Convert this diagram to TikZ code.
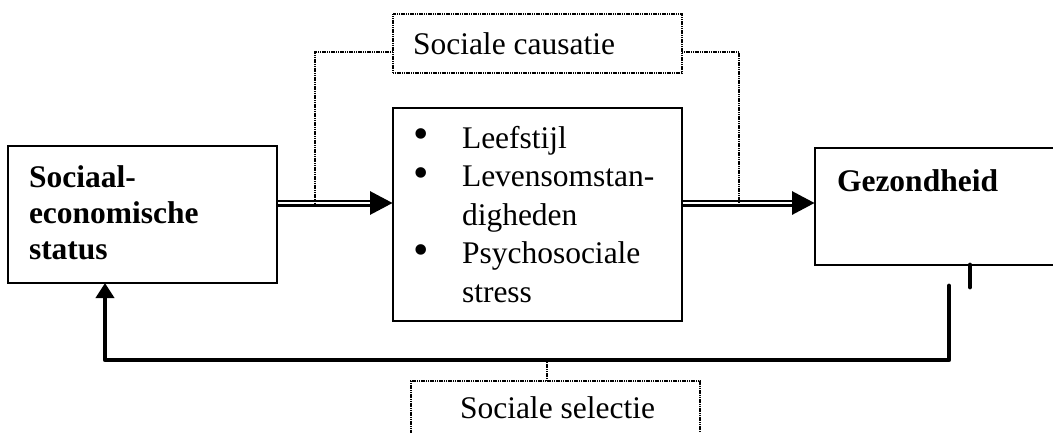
\documentclass[tikz,border=0pt]{standalone}
\usepackage{fontspec}
\setmainfont{Liberation Serif}
\usetikzlibrary{arrows.meta}
\tikzset{
  box/.style={draw, line width=1.6pt, inner sep=0pt, outer sep=0pt, anchor=north west},
  dotbox/.style={draw, line width=1.1pt, dash pattern=on 1.2pt off 0.6pt, inner sep=0pt, outer sep=0pt, anchor=north west},
  txt/.style={inner sep=0pt, outer sep=0pt, anchor=base west, align=left},
  bul/.style={inner sep=0pt, outer sep=0pt, anchor=center, font={\fontsize{44}{44}\selectfont}},
  dotline/.style={line width=1.1pt, dash pattern=on 1.2pt off 0.6pt},
  dblouter/.style={line width=7pt, -{Triangle[length=23pt,width=22pt]}},
  dblinner/.style={line width=2.2pt, white, shorten >=23pt, shorten <=0.9pt},
  fb/.style={line width=4.8pt, line cap=round, line join=round},
}
\begin{document}
\begin{tikzpicture}[x=1pt,y=-1pt]
\useasboundingbox (0,0) rectangle (1053,432);
\clip (0,0) rectangle (1053,432);
% boxes
\node[box, minimum width=269pt, minimum height=137pt] (ses) at (8,146) {};
\node[box, minimum width=289pt, minimum height=213pt] (mid) at (393,108) {};
\node[box, minimum width=265pt, minimum height=117pt] (gez) at (815,148) {};
\node[dotbox, minimum width=289pt, minimum height=59pt] (caus) at (393,14) {};
\node[dotbox, minimum width=289pt, minimum height=79pt] (sel) at (411,381) {};
% texts (multi-line nodes are placed by the baseline of their last line)
\node[txt, font={\fontsize{31.5}{36}\selectfont\bfseries}] (sestxt) at (29,259) {Sociaal-\\economische\\status};
\node[txt, font={\fontsize{31.5}{38.5}\selectfont}] (midtxt) at (462,302) {Leefstijl\\Levensomstan-\\digheden\\Psychosociale\\stress};
\node[bul] (b1) at (421,139) {•};
\node[bul] (b2) at (421,177.5) {•};
\node[bul] (b3) at (421,254.5) {•};
\node[txt, font={\fontsize{31.5}{36}\selectfont\bfseries}] (geztxt) at (837,191) {Gezondheid};
\node[txt, font={\fontsize{31.5}{36}\selectfont}] (caustxt) at (413,54) {Sociale causatie};
\node[txt, font={\fontsize{31.5}{36}\selectfont}] (seltxt) at (460,418) {Sociale selectie};
% double arrows
\coordinate (lvl) at (0,203);
\draw[dblouter] (ses.east |- lvl) -- (mid.west |- lvl);
\draw[dblinner] (ses.east |- lvl) -- (mid.west |- lvl);
\draw[dblouter] (mid.east |- lvl) -- (gez.west |- lvl);
\draw[dblinner] (mid.east |- lvl) -- (gez.west |- lvl);
% feedback
\coordinate (fbstart) at (949,286);
\coordinate (fbrow) at (105,360);
\draw[fb, -{Triangle[length=15pt,width=18pt]}] (fbstart) |- (fbrow) -- ([xshift=-37.5pt]ses.south);
\draw[fb] ([xshift=22.5pt]gez.south) -- ++(0,22);
% dotted connectors
\coordinate (cy) at (0,52);
\coordinate (cl) at (315,207);
\coordinate (cr) at (739,207);
\draw[dotline] (caus.west |- cy) -| (cl);
\draw[dotline] (caus.east |- cy) -| (cr);
\coordinate (sl) at (547,362);
\draw[dotline] (sel.north -| sl) -- (sl);
\end{tikzpicture}
\end{document}
